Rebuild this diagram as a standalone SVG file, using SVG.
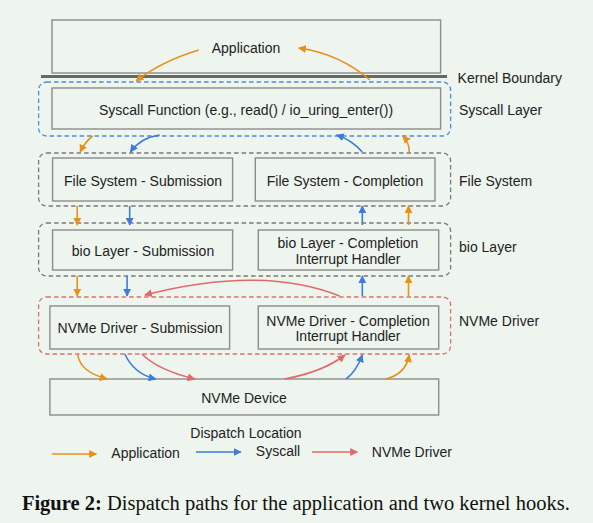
<svg xmlns="http://www.w3.org/2000/svg" width="593" height="523" viewBox="0 0 593 523">
<defs>
<style>
.bg{fill:#eef5ee}
.box{fill:none;stroke:#8c8c8c;stroke-width:1.4}
.grp{fill:none;stroke-width:1.3;stroke-dasharray:4.5 3}
.t{font-family:"Liberation Sans",Arial,sans-serif;font-size:14px;fill:#222;text-anchor:middle;dominant-baseline:central}
.l{font-family:"Liberation Sans",Arial,sans-serif;font-size:14px;fill:#222;dominant-baseline:central}
.o{fill:none;stroke:#e8901c;stroke-width:1.6}
.b{fill:none;stroke:#3b7dd8;stroke-width:1.6}
.r{fill:none;stroke:#e06a6a;stroke-width:1.6}
.cap{font-family:"Liberation Serif","Times New Roman",serif;font-size:20.5px;fill:#111}
</style>
<marker id="mo" viewBox="0 0 10 10" refX="9" refY="5" markerWidth="8" markerHeight="8" markerUnits="userSpaceOnUse" orient="auto"><path d="M0,0L10,5L0,10z" fill="#e8901c"/></marker>
<marker id="mb" viewBox="0 0 10 10" refX="9" refY="5" markerWidth="8" markerHeight="8" markerUnits="userSpaceOnUse" orient="auto"><path d="M0,0L10,5L0,10z" fill="#3b7dd8"/></marker>
<marker id="mr" viewBox="0 0 10 10" refX="9" refY="5" markerWidth="8" markerHeight="8" markerUnits="userSpaceOnUse" orient="auto"><path d="M0,0L10,5L0,10z" fill="#e06a6a"/></marker>
</defs>
<rect class="bg" x="0" y="0" width="593" height="523"/>

<g id="groups">
<rect class="grp" x="38.6" y="82" width="412" height="54" rx="8" stroke="#4a8ae0"/>
<rect class="grp" x="38.6" y="153" width="412" height="53" rx="8" stroke="#7a7a7a"/>
<rect class="grp" x="38.6" y="223" width="412" height="53" rx="8" stroke="#7a7a7a"/>
<rect class="grp" x="38.6" y="297" width="412" height="57" rx="8" stroke="#e07070"/>
</g>

<g id="kernel-boundary">
<line x1="41" y1="76.5" x2="447" y2="76.5" stroke="#646964" stroke-width="3.2"/>
<text class="l" x="457.6" y="78">Kernel Boundary</text>
</g>

<g id="layer-labels">
<text class="l" x="459" y="110">Syscall Layer</text>
<text class="l" x="459" y="181">File System</text>
<text class="l" x="459" y="247">bio Layer</text>
<text class="l" x="459" y="321">NVMe Driver</text>
</g>

<g id="application"><rect class="box" x="52" y="20" width="388.6" height="53"/><text class="t" x="246" y="48">Application</text></g>
<g id="syscall"><rect class="box" x="52" y="88" width="388.6" height="41"/><text class="t" x="246" y="110">Syscall Function (e.g., read() / io_uring_enter())</text></g>
<g id="fs-sub"><rect class="box" x="52.6" y="158" width="180" height="43"/><text class="t" x="143" y="181">File System - Submission</text></g>
<g id="fs-comp"><rect class="box" x="255.3" y="158" width="179.7" height="43"/><text class="t" x="345" y="181">File System - Completion</text></g>
<g id="bio-sub"><rect class="box" x="52.6" y="230" width="180" height="40"/><text class="t" x="143" y="251">bio Layer - Submission</text></g>
<g id="bio-comp"><rect class="box" x="258.3" y="230" width="180.4" height="40"/><text class="t" x="348" y="243">bio Layer - Completion</text><text class="t" x="348" y="259">Interrupt Handler</text></g>
<g id="nvme-sub"><rect class="box" x="49.9" y="306" width="179.7" height="43"/><text class="t" x="140" y="328">NVMe Driver - Submission</text></g>
<g id="nvme-comp"><rect class="box" x="258.3" y="306" width="180.4" height="43"/><text class="t" x="348" y="321">NVMe Driver - Completion</text><text class="t" x="348" y="336">Interrupt Handler</text></g>
<g id="nvme-device"><rect class="box" x="49.9" y="379" width="388.8" height="36"/><text class="t" x="244" y="398">NVMe Device</text></g>

<g id="connectors">
<path class="o" d="M198.6,50 Q160,62 136.2,81" marker-end="url(#mo)"/>
<path class="o" d="M369.9,80 Q340,54 298.8,48" marker-end="url(#mo)"/>
<path class="o" d="M92.7,136 Q85,142 80.2,152" marker-end="url(#mo)"/>
<path class="b" d="M159.6,135 Q140,138 130.5,152" marker-end="url(#mb)"/>
<path class="b" d="M362.3,152 Q352,140 336.6,135" marker-end="url(#mb)"/>
<path class="o" d="M409.2,152 Q409.5,143 402.8,136" marker-end="url(#mo)"/>
<path class="o" d="M77.2,206 L77.2,225" marker-end="url(#mo)"/>
<path class="b" d="M129.7,206 L129.7,225" marker-end="url(#mb)"/>
<path class="b" d="M362.3,225 L362.3,206" marker-end="url(#mb)"/>
<path class="o" d="M408.5,225 L408.5,206" marker-end="url(#mo)"/>
<path class="o" d="M77.2,276 L77.2,296" marker-end="url(#mo)"/>
<path class="b" d="M127.1,276 L127.1,296" marker-end="url(#mb)"/>
<path class="r" d="M339.6,296 Q262,265 144.9,295" marker-end="url(#mr)"/>
<path class="b" d="M362.3,296 L362.3,276" marker-end="url(#mb)"/>
<path class="o" d="M408.5,296 L408.5,276" marker-end="url(#mo)"/>
<path class="o" d="M77.5,354 Q80,372 107,379" marker-end="url(#mo)"/>
<path class="b" d="M124.8,354 Q134,374 155.8,379" marker-end="url(#mb)"/>
<path class="r" d="M141.8,354 Q158,370 194.8,379" marker-end="url(#mr)"/>
<path class="r" d="M284.4,379 Q323,372 344.9,355" marker-end="url(#mr)"/>
<path class="b" d="M346,379 Q356,372 362.3,355" marker-end="url(#mb)"/>
<path class="o" d="M385.8,379 Q406,374 409.2,355" marker-end="url(#mo)"/>
</g>

<g id="legend">
<text class="t" x="246" y="433">Dispatch Location</text>
<path class="o" d="M51.8,454 L96.4,454" marker-end="url(#mo)"/>
<text class="t" x="145.6" y="453">Application</text>
<path class="b" d="M195.9,452 L240.9,452" marker-end="url(#mb)"/>
<text class="t" x="278" y="451">Syscall</text>
<path class="r" d="M312,452 L357.4,452" marker-end="url(#mr)"/>
<text class="l" x="371.8" y="452">NVMe Driver</text>
</g>

<text class="cap" x="21.9" y="510"><tspan font-weight="bold">Figure 2:</tspan> Dispatch paths for the application and two kernel hooks.</text>
</svg>
